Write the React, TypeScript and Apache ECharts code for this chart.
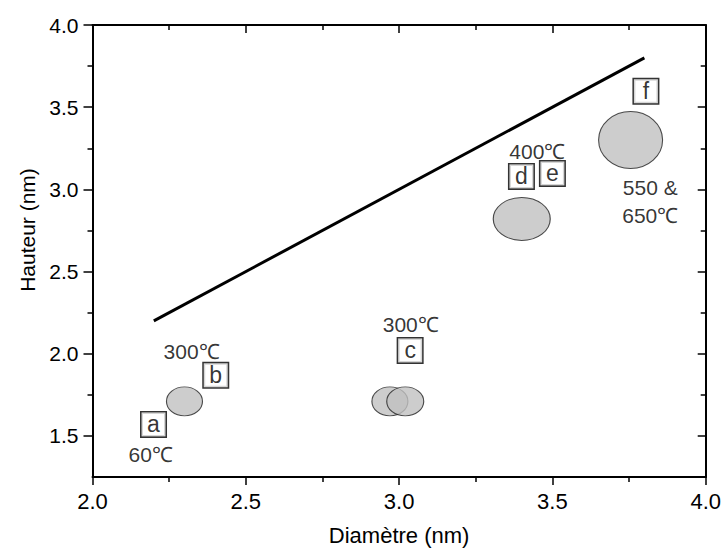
import React, { useEffect, useRef } from "react";
import * as echarts from "echarts";

// Reference line
const lineX = [2.2, 3.8];
const lineY = [2.2, 3.8];

// Grey ellipses (island diameter / height)
const dotX = [2.3, 2.97, 3.02, 3.4, 3.755];
const dotY = [1.71, 1.71, 1.71, 2.82, 3.3];
const dotW = [36, 36, 37, 57, 64];
const dotH = [29, 29, 29, 43, 57];

// Temperature annotations
const tempLabels = ["60℃", "300℃", "300℃", "400℃", "550 &\n650℃"];
const tempX = [2.19, 2.323, 3.038, 3.451, 3.819];
const tempY = [1.385, 2.016, 2.176, 3.232, 2.924];

// Sample letters (boxed)
const sampleLetters = ["a", "b", "c", "d", "e", "f"];
const letterX = [2.199, 2.402, 3.036, 3.399, 3.5, 3.805];
const letterY = [1.57, 1.869, 2.02, 3.079, 3.097, 3.597];

// Axis ticks
const xMin = 2.0;
const xMax = 4.0;
const yMin = 1.25;
const yMax = 4.0;
const yMajor = [1.5, 2.0, 2.5, 3.0, 3.5, 4.0];
const yMinor = [1.75, 2.25, 2.75, 3.25, 3.75];

const FONT = "Arial, Liberation Sans, Helvetica, sans-serif";
const ELLIPSE =
  "path://M1,0C1,0.552,0.552,1,0,1C-0.552,1,-1,0.552,-1,0C-1,-0.552,-0.552,-1,0,-1C0.552,-1,1,-0.552,1,0Z";

export default function App() {
  const ref = useRef<HTMLDivElement>(null);

  useEffect(() => {
    if (!ref.current) return;
    const chart = echarts.init(ref.current, undefined, { renderer: "svg" });

    const axisLine = { show: true, lineStyle: { color: "#000", width: 2 } };
    const tickStyle = { color: "#000", width: 1.5 };

    const xBase = {
      type: "value" as const,
      min: xMin,
      max: xMax,
      interval: 0.5,
      splitLine: { show: false },
      axisLine,
      minorSplitLine: { show: false },
    };
    const yBase = {
      type: "value" as const,
      min: yMin,
      max: yMax,
      splitLine: { show: false },
    };

    const option = {
      animation: false,
      backgroundColor: "#fff",
      grid: { left: 92.5, right: 17.3, top: 25, bottom: 73.7, containLabel: false },
      xAxis: [
        {
          ...xBase,
          position: "bottom",
          axisTick: { show: true, inside: false, length: 8, lineStyle: tickStyle },
          minorTick: { show: true, splitNumber: 2, length: 5, lineStyle: tickStyle },
          axisLabel: {
            show: true,
            fontSize: 22,
            fontFamily: FONT,
            color: "#000",
            margin: 13,
            formatter: (v: number) => v.toFixed(1),
          },
          name: "Diamètre (nm)",
          nameLocation: "middle",
          nameGap: 47,
          nameTextStyle: { fontSize: 22, fontFamily: FONT, color: "#000" },
        },
        {
          ...xBase,
          position: "top",
          axisTick: { show: true, inside: true, length: 8, lineStyle: tickStyle },
          minorTick: { show: true, splitNumber: 2, length: 5, lineStyle: tickStyle },
          axisLabel: { show: false },
        },
      ],
      yAxis: [
        {
          ...yBase,
          position: "left",
          axisLine,
          axisTick: { show: true, inside: false, length: 9, customValues: yMajor, lineStyle: tickStyle },
          axisLabel: {
            show: true,
            customValues: yMajor,
            fontSize: 21,
            fontFamily: FONT,
            color: "#000",
            margin: 14,
            formatter: (v: number) => v.toFixed(1),
          },
          name: "Hauteur (nm)",
          nameLocation: "middle",
          nameGap: 52,
          nameTextStyle: { fontSize: 21, fontFamily: FONT, color: "#000", padding: [0, 0, 0, 42] },
        },
        {
          ...yBase,
          position: "left",
          axisLine: { show: false },
          axisTick: { show: true, inside: false, length: 5, customValues: yMinor, lineStyle: tickStyle },
          axisLabel: { show: false },
        },
        {
          ...yBase,
          position: "right",
          axisLine,
          axisTick: { show: true, inside: true, length: 8, customValues: yMajor, lineStyle: tickStyle },
          axisLabel: { show: false },
        },
        {
          ...yBase,
          position: "right",
          axisLine: { show: false },
          axisTick: { show: true, inside: true, length: 5, customValues: yMinor, lineStyle: tickStyle },
          axisLabel: { show: false },
        },
      ],
      series: [
        {
          type: "line",
          xAxisIndex: 0,
          yAxisIndex: 0,
          data: lineX.map((x, i) => [x, lineY[i]]),
          symbol: "none",
          lineStyle: { color: "#000", width: 3 },
          z: 3,
        },
        {
          type: "scatter",
          xAxisIndex: 0,
          yAxisIndex: 0,
          symbol: ELLIPSE,
          data: dotX.map((x, i) => ({
            value: [x, dotY[i]],
            symbolSize: [dotW[i], dotH[i]],
          })),
          itemStyle: { color: "#c0c0c0", borderColor: "#222", borderWidth: 1 },
          z: 2,
        },
        {
          type: "scatter",
          xAxisIndex: 0,
          yAxisIndex: 0,
          symbolSize: 1,
          itemStyle: { color: "rgba(0,0,0,0)" },
          data: tempX.map((x, i) => ({ value: [x, tempY[i]], name: tempLabels[i] })),
          label: {
            show: true,
            position: "inside",
            formatter: "{b}",
            fontSize: 21,
            fontFamily: FONT,
            color: "#000",
            lineHeight: 28,
            align: "center",
            verticalAlign: "middle",
          },
          z: 4,
        },
        {
          type: "scatter",
          xAxisIndex: 0,
          yAxisIndex: 0,
          symbolSize: 1,
          itemStyle: { color: "rgba(0,0,0,0)" },
          data: letterX.map((x, i) => ({ value: [x, letterY[i]], name: sampleLetters[i] })),
          label: {
            show: true,
            position: "inside",
            formatter: "{b}",
            fontSize: 23,
            fontFamily: FONT,
            color: "#000",
            backgroundColor: "#fff",
            borderColor: "#000",
            borderWidth: 1.5,
            width: 22,
            height: 22,
            lineHeight: 22,
            padding: [1, 1, 1, 1],
            align: "center",
            verticalAlign: "middle",
          },
          z: 4,
        },
      ],
    };

    chart.setOption(option as any);
    return () => chart.dispose();
  }, []);

  return (
    <div
      ref={ref}
      style={{ position: "absolute", left: 0, top: 0, width: 724, height: 551 }}
    />
  );
}
